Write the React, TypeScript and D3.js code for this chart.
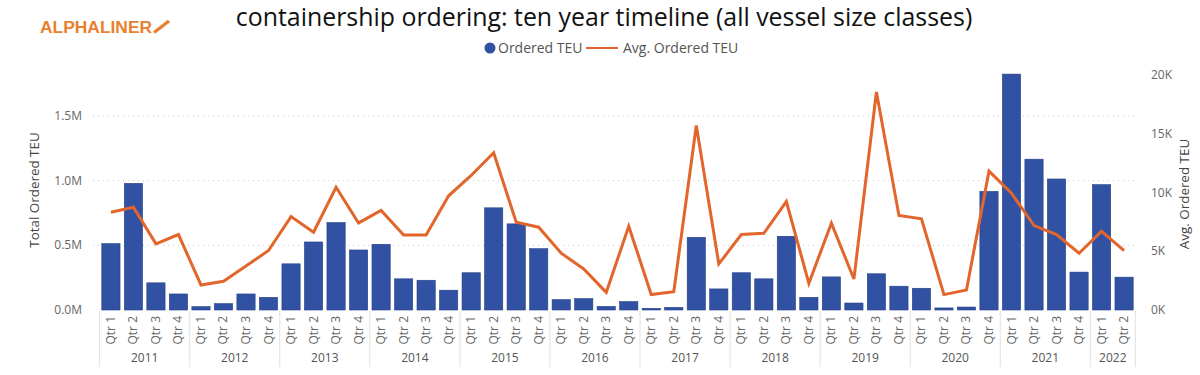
import React from "react";
import * as d3 from "d3";

const years = ["2011","2012","2013","2014","2015","2016","2017","2018","2019","2020","2021","2022"];
const quartersPerYear = [4,4,4,4,4,4,4,4,4,4,4,2];
const orderedTEU = [
  0.513, 0.979, 0.21, 0.124,
  0.026, 0.049, 0.124, 0.098,
  0.357, 0.526, 0.676, 0.464,
  0.508, 0.241, 0.23, 0.153,
  0.288, 0.79, 0.666, 0.474,
  0.08, 0.088, 0.028, 0.065,
  0.013, 0.02, 0.562, 0.163,
  0.288, 0.241, 0.57, 0.098,
  0.256, 0.054, 0.28, 0.184,
  0.168, 0.016, 0.023, 0.917,
  1.824, 1.166, 1.013, 0.293,
  0.969, 0.254,
];
const avgTEU = [
  8.32, 8.75, 5.63, 6.42,
  2.13, 2.44, 3.75, 5.06,
  7.95, 6.62, 10.45, 7.41,
  8.47, 6.39, 6.39, 9.72,
  11.45, 13.38, 7.47, 7.05,
  4.83, 3.49, 1.5, 7.13,
  1.31, 1.56, 15.7, 3.92,
  6.42, 6.53, 9.23, 2.27,
  7.39, 2.64, 18.55, 8.04,
  7.76, 1.31, 1.7, 11.82,
  9.94, 7.19, 6.42, 4.83,
  6.7, 5.06,
];
const leftTicks = [0, 0.5, 1.0, 1.5];
const leftTickLabels = ["0.0M", "0.5M", "1.0M", "1.5M"];
const rightTicks = [0, 5, 10, 15, 20];
const rightTickLabels = ["0K", "5K", "10K", "15K", "20K"];

const BAR = "#3152A3";
const LINE = "#E2662C";
const FONT = "'Open Sans', 'Noto Sans', sans-serif";

export default function App() {
  const W = 1200, H = 375;
  const x0 = 100, x1 = 1135, yBase = 310;
  const cats: { year: string; q: number; key: string }[] = [];
  years.forEach((y, i) => {
    for (let q = 1; q <= quartersPerYear[i]; q++) cats.push({ year: y, q, key: y + "-" + q });
  });
  const x = d3.scaleBand<string>().domain(cats.map((c) => c.key)).range([x0, x1]).paddingInner(0.19).paddingOuter(0.08);
  const yL = d3.scaleLinear().domain([0, 1.5]).range([yBase, 116]);
  const yR = d3.scaleLinear().domain([0, 20]).range([yBase, 75]);
  const line = d3.line<number>()
    .x((_, i) => (x(cats[i].key) as number) + x.bandwidth() / 2)
    .y((d) => yR(d));

  const step = x.step();
  const groups: { year: string; start: number; end: number }[] = [];
  let idx = 0;
  years.forEach((y, i) => {
    const n = quartersPerYear[i];
    const s = (x(cats[idx].key) as number) - (step - x.bandwidth()) / 2;
    const e = (x(cats[idx + n - 1].key) as number) + x.bandwidth() + (step - x.bandwidth()) / 2;
    groups.push({ year: y, start: s, end: e });
    idx += n;
  });

  return (
    <svg width={W} height={H} style={{ position: "absolute", left: 0, top: 0, background: "#fff" }} fontFamily={FONT}>
      {/* logo */}
      <text x={40} y={33} fontFamily="'Liberation Sans', Arial, sans-serif" fontWeight="bold" fontSize={17.4} fill="#E8812F">ALPHALINER</text>
      <path d="M154,32.5 L169,21" stroke="#E8812F" strokeWidth={3.4} strokeLinecap="butt" />
      {/* title */}
      <text x={604} y={26} textAnchor="middle" fontSize={24.9} fill="#111">containership ordering: ten year timeline (all vessel size classes)</text>
      {/* legend */}
      <circle cx={490} cy={48} r={5.5} fill={BAR} />
      <text x={498} y={53} fontSize={14} fill="#555">Ordered TEU</text>
      <line x1={586} x2={618} y1={48} y2={48} stroke={LINE} strokeWidth={2} />
      <text x={623} y={53} fontSize={14} fill="#555">Avg. Ordered TEU</text>

      {/* gridlines */}
      {leftTicks.slice(1).map((t) => (
        <line key={t} x1={93} x2={1138} y1={yL(t)} y2={yL(t)} stroke="#C8C8C8" strokeWidth={1} strokeDasharray="1,4" />
      ))}
      {/* left axis */}
      {leftTicks.map((t, i) => (
        <text key={t} x={82} y={yL(t) + 4} textAnchor="end" fontSize={12} fill="#666">{leftTickLabels[i]}</text>
      ))}
      <text transform={`translate(39,190) rotate(-90)`} textAnchor="middle" fontSize={13.4} fill="#444">Total Ordered TEU</text>
      {/* right axis */}
      {rightTicks.map((t, i) => (
        <text key={t} x={1151} y={yR(t) + 4} textAnchor="start" fontSize={12} fill="#666">{rightTickLabels[i]}</text>
      ))}
      <text transform={`translate(1189,194) rotate(-90)`} textAnchor="middle" fontSize={13.4} fill="#444">Avg. Ordered TEU</text>

      {/* bars */}
      {orderedTEU.map((v, i) => (
        <rect key={i} x={x(cats[i].key)} y={yL(v)} width={x.bandwidth()} height={yBase - yL(v)} fill={BAR} stroke="#243F86" strokeWidth={0.6} />
      ))}
      {/* line */}
      <path d={line(avgTEU) || ""} fill="none" stroke={LINE} strokeWidth={3} strokeLinejoin="miter" />

      {/* x axis categories */}
      {cats.map((c) => {
        const cx = (x(c.key) as number) + x.bandwidth() / 2;
        return (
          <text key={c.key} transform={`translate(${cx + 4},${316}) rotate(-90)`} textAnchor="end" fontSize={12} fill="#666">{"Qtr " + c.q}</text>
        );
      })}
      {groups.map((g, i) => (
        <g key={g.year}>
          <line x1={g.start} x2={g.start} y1={311} y2={367} stroke="#E0E0E0" strokeWidth={1} />
          {i === groups.length - 1 && <line x1={g.end} x2={g.end} y1={311} y2={367} stroke="#E0E0E0" strokeWidth={1} />}
          <text x={(g.start + g.end) / 2} y={362} textAnchor="middle" fontSize={12} fill="#555">{g.year}</text>
        </g>
      ))}
    </svg>
  );
}
